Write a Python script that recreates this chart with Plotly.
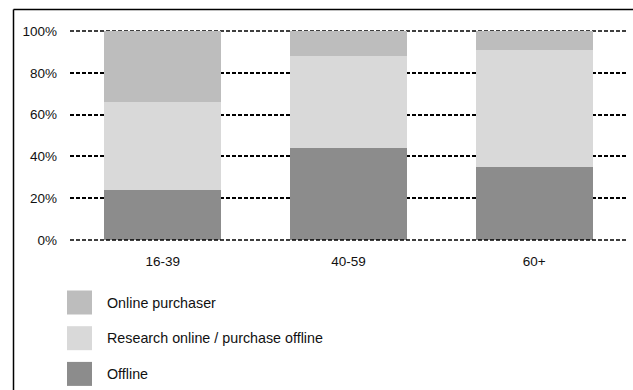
import plotly.graph_objects as go

# Share of shoppers by age group (%)
age_groups = ["16-39", "40-59", "60+"]
offline = [24, 44, 35]
research_online = [42, 44, 56]
online_purchaser = [34, 12, 9]
y_ticks = [0, 20, 40, 60, 80, 100]
y_tick_labels = ["0%", "20%", "40%", "60%", "80%", "100%"]
y_range = [0, 100]

series = [
    ("Offline", offline, "#8c8c8c"),
    ("Research online / purchase offline", research_online, "#d9d9d9"),
    ("Online purchaser", online_purchaser, "#bdbdbd"),
]

fig = go.Figure()
for name, vals, color in series:
    fig.add_trace(go.Bar(x=age_groups, y=vals, name=name,
                         marker=dict(color=color, line=dict(width=0)),
                         showlegend=False))

W, H = 633, 390
ml, mr, mt, mb = 70, 6, 31, 150
pw, ph = W - ml - mr, H - mt - mb


def px_x(x):
    return (x - ml) / pw


def px_y(y):
    return (H - mb - y) / ph


def tick_to_paper(v):
    return (v - y_range[0]) / (y_range[1] - y_range[0])


GRID = dict(color="black", width=1.6, dash="4px,2px")
shapes = []
annotations = []

# outer frame (open on the right and bottom)
shapes.append(dict(type="line", xref="paper", yref="paper",
                   x0=px_x(13.5), x1=px_x(640), y0=px_y(9.5), y1=px_y(9.5),
                   line=dict(color="black", width=1.5)))
shapes.append(dict(type="line", xref="paper", yref="paper",
                   x0=px_x(13.5), x1=px_x(13.5), y0=px_y(9.5), y1=px_y(395),
                   line=dict(color="black", width=1.5)))

# top gridline (behind bars) and dashed baseline (over bars)
shapes.append(dict(type="line", xref="paper", yref="paper", x0=0, x1=1,
                   y0=tick_to_paper(y_ticks[-1]), y1=tick_to_paper(y_ticks[-1]),
                   line=dict(GRID), layer="below"))
shapes.append(dict(type="line", xref="paper", yref="paper", x0=0, x1=1,
                   y0=tick_to_paper(y_ticks[0]), y1=tick_to_paper(y_ticks[0]),
                   line=dict(GRID), layer="above"))

# legend, top entry first
legend_rows = [series[2], series[1], series[0]]
for i, (name, vals, color) in enumerate(legend_rows):
    cy = 302.5 + i * 35.7
    shapes.append(dict(type="rect", xref="paper", yref="paper",
                       x0=px_x(67), x1=px_x(92), y0=px_y(cy - 12), y1=px_y(cy + 12),
                       fillcolor=color, line=dict(width=0)))
    annotations.append(dict(xref="paper", yref="paper", x=px_x(105), y=px_y(cy),
                            text=name, showarrow=False, xanchor="left", yanchor="middle",
                            font=dict(size=14.3, color="#111")))

fig.update_layout(
    width=W, height=H,
    margin=dict(l=ml, r=mr, t=mt, b=mb),
    barmode="stack", bargap=0.37,
    plot_bgcolor="white", paper_bgcolor="white",
    font=dict(family="Liberation Sans, Arial, sans-serif", size=13.5, color="#111"),
    shapes=shapes, annotations=annotations,
    xaxis=dict(showgrid=False, showline=False, zeroline=False, ticks="",
               ticklabelstandoff=11),
    yaxis=dict(range=y_range, tickvals=y_ticks, ticktext=y_tick_labels,
               showgrid=True, gridcolor="black", gridwidth=1.6, griddash="4px,2px",
               zeroline=False, showline=False, ticks="", ticklabelstandoff=12),
)

fig.write_html("out.html")
